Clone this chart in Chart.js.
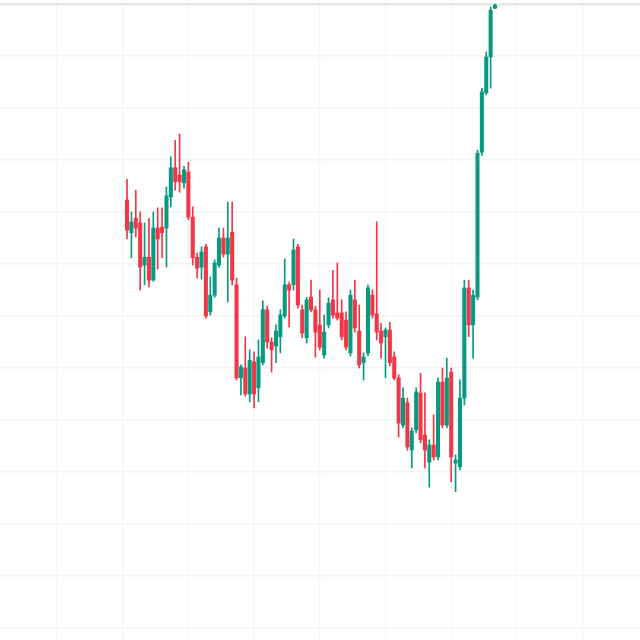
<!DOCTYPE html>
<html>
<head>
<meta charset="utf-8">
<script src="https://cdn.jsdelivr.net/npm/chart.js@4/dist/chart.umd.min.js"></script>
<style>
  html, body { margin: 0; padding: 0; background: #ffffff; }
  #wrap { width: 640px; height: 640px; }
</style>
</head>
<body>
<div id="wrap"><canvas id="candles"></canvas></div>
<script>
// OHLC values, one candle per slot
const open = [182.3,176.0,178.8,177.9,169.8,171.3,166.9,176.9,177.1,176.9,
  182.9,188.5,187.1,185.6,187.7,179.0,171.3,169.4,173.3,160.8,
  164.0,169.8,175.0,171.9,176.1,166.0,148.1,150.0,145.0,151.2,
  146.2,151.0,161.2,155.0,154.2,156.0,160.0,166.0,166.0,173.3,
  161.2,155.8,163.6,161.2,158.3,152.5,158.3,163.1,160.6,160.6,
  159.2,152.9,163.1,157.1,151.0,152.9,164.0,160.4,157.1,156.0,
  157.3,152.1,148.1,139.0,143.3,134.2,138.1,145.2,137.1,131.9,
  135.2,132.9,147.3,139.0,149.2,131.7,131.0,144.2,165.4,158.3,
  163.6,191.5,202.9,209.8,219.2];
const high = [186.3,180.0,184.2,180.0,177.9,178.8,180.0,180.8,180.8,184.8,
  190.6,193.8,195.0,188.8,189.6,181.0,172.1,173.3,173.8,167.5,
  170.8,176.9,176.9,181.9,181.9,167.3,150.6,156.0,153.5,153.1,
  155.4,162.9,161.9,155.8,158.3,161.2,171.0,166.5,174.8,173.8,
  162.1,163.6,166.9,161.9,165.0,160.2,163.5,168.8,170.2,163.1,
  160.8,165.0,166.9,162.1,152.9,166.0,165.0,178.1,158.6,157.7,
  158.8,153.1,148.7,146.2,144.2,138.5,146.2,149.0,145.2,136.2,
  141.0,148.1,150.0,151.9,150.0,133.3,147.7,166.9,166.9,165.0,
  191.9,203.8,210.8,219.4,220.0];
const low = [174.8,171.2,175.2,165.0,166.0,165.6,166.7,169.0,171.2,169.4,
  181.0,184.2,183.8,184.6,178.5,169.8,167.3,167.1,159.6,160.2,
  163.6,169.4,171.3,162.7,166.0,147.7,144.8,144.6,143.5,142.3,
  143.5,150.6,153.8,149.2,151.0,152.9,159.6,157.9,165.0,161.5,
  155.8,154.8,160.8,152.1,153.5,151.9,157.7,159.6,159.2,155.4,
  153.5,152.3,156.9,150.0,147.7,152.3,159.6,155.4,151.9,148.1,
  150.4,147.7,136.7,138.5,134.2,130.8,137.5,135.6,130.8,127.1,
  132.3,132.3,138.5,138.5,128.1,126.2,130.4,142.9,156.0,151.9,
  163.1,190.9,202.5,203.8,219.1];
const close = [176.5,178.1,176.9,169.4,171.3,166.9,176.9,174.8,176.0,183.1,
  188.5,185.8,185.8,188.1,179.0,171.2,169.2,172.3,160.0,164.0,
  170.2,175.0,171.9,175.0,166.9,148.1,150.2,145.0,151.5,145.0,
  152.1,161.2,155.0,153.5,157.1,160.2,166.0,165.0,172.7,162.1,
  156.7,163.1,161.2,156.9,154.0,156.9,162.5,160.2,159.6,156.0,
  154.0,164.0,157.7,150.6,152.1,165.4,160.2,156.9,154.8,157.3,
  151.0,148.1,139.4,144.2,134.8,137.9,145.4,136.2,134.2,135.2,
  132.9,147.3,139.0,148.1,132.9,132.3,144.2,165.4,158.3,164.0,
  191.3,203.1,209.8,218.8,219.8];

const UP = '#089981';
const DOWN = '#f23645';

// candle i sits at x = i + 1, grid every 15 slots
const colors = close.map((c, i) => c >= open[i] ? UP : DOWN);
const bodies = open.map((o, i) => ({ x: i + 1, y: [o, close[i]] }));
const wicks = open.map((o, i) => ({ x: i + 1, y: [low[i], high[i]] }));

const ctx = document.getElementById('candles').getContext('2d');
new Chart(ctx, {
  type: 'bar',
  data: {
    datasets: [
      {
        label: 'body',
        data: bodies,
        backgroundColor: colors,
        barThickness: 3.4,
        minBarLength: 1,
        grouped: false,
        borderSkipped: false,
      },
      {
        label: 'wick',
        data: wicks,
        backgroundColor: colors,
        barThickness: 1,
        grouped: false,
        borderSkipped: false,
      },
    ],
  },
  options: {
    responsive: true,
    maintainAspectRatio: false,
    animation: false,
    layout: { padding: 0 },
    plugins: {
      legend: { display: false },
      tooltip: { enabled: false },
    },
    scales: {
      x: {
        type: 'linear',
        min: -28,
        max: 118.1,
        offset: false,
        border: { display: false },
        grid: { offset: false, drawTicks: false, color: '#f6f6f6', lineWidth: 1.2 },
        ticks: { display: false, stepSize: 15, includeBounds: false },
        afterFit: (s) => { s.height = 0; },
      },
      y: {
        min: 97.69,
        max: 220.77,
        border: { display: false },
        grid: {
          drawTicks: false,
          color: (c) => (c.tick && c.tick.value === 220 ? '#e6e6e6' : '#f4f4f4'),
          lineWidth: (c) => (c.tick && c.tick.value === 220 ? 2.5 : 1.5),
        },
        ticks: { display: false, stepSize: 10, includeBounds: false },
        afterFit: (s) => { s.width = 0; },
      },
    },
  },
});
</script>
</body>
</html>
